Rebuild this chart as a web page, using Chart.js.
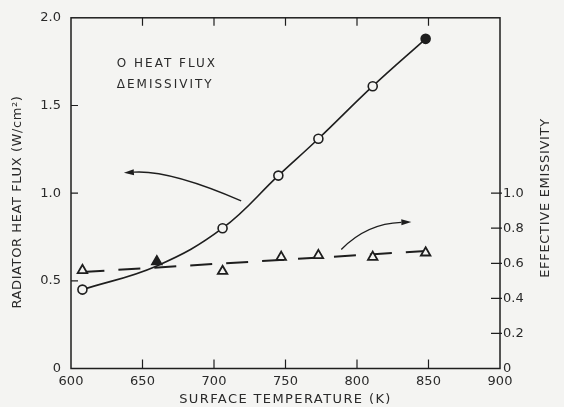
<!DOCTYPE html>
<html><head><meta charset="utf-8">
<script src="https://cdn.jsdelivr.net/npm/chart.js@4.4.1/dist/chart.umd.min.js"></script>
<style>html,body{margin:0;padding:0;background:#f4f4f2;}canvas{display:block;}</style>
</head><body>
<canvas id="c" width="564" height="407"></canvas>
<script>
// ---- data ----
const temperatureHF = [608, 660, 706, 745, 773, 811, 848];
const heatFlux      = [0.45, 0.585, 0.80, 1.10, 1.31, 1.61, 1.88];
const temperatureEm = [608, 660, 706, 747, 773, 811, 848];
const emissivity    = [0.56, 0.61, 0.555, 0.635, 0.645, 0.635, 0.66];
const fitTemperature = [608, 848];
const fitEmissivity  = [0.55, 0.67];
const xTicks      = [600, 650, 700, 750, 800, 850, 900];
const yLeftTicks  = [0, 0.5, 1.0, 1.5, 2.0];
const yRightTicks = [0, 0.2, 0.4, 0.6, 0.8, 1.0];
const xTitle = 'SURFACE TEMPERATURE (K)';
const yLeftTitle = 'RADIATOR HEAT FLUX (W/cm\u00B2)';
const yRightTitle = 'EFFECTIVE EMISSIVITY';
const legendLabels = ['O HEAT FLUX', '\u0394EMISSIVITY'];
const legendAnchors = [[632, 1.74], [632, 1.62]];           // data units (x, left y)
const arrowPaths = [                                          // data units (x, left y)
  {from: [719, 0.956], ctrl: [669, 1.133], to: [637, 1.116]},
  {from: [789, 0.679], ctrl: [807, 0.828], to: [838, 0.835]}
];

const BG = '#f4f4f2';
const INK = '#1e1e1e';
const TXT = '#2a2a2a';
const FONT = 'DejaVu Sans';

function fmt(v){ return v === 0 ? '0' : v.toFixed(1); }

const overlay = {
  id: 'overlay',
  beforeDraw(chart){
    const s = chart.scales.x;
    if (!s._spacingPatched){
      const orig = s.drawTitle;
      s.drawTitle = function(){ this.ctx.save(); this.ctx.letterSpacing = '1.4px'; orig.apply(this, arguments); this.ctx.restore(); };
      s._spacingPatched = true;
    }
    const ctx = chart.ctx;
    ctx.save(); ctx.fillStyle = BG; ctx.fillRect(0,0,chart.width,chart.height); ctx.restore();
  },
  afterDraw(chart){
    const {ctx, chartArea: a, scales} = chart;
    const x = scales.x, y = scales.y, y2 = scales.y2;
    ctx.save();
    ctx.strokeStyle = INK; ctx.lineWidth = 1.5;
    ctx.strokeRect(a.left, a.top, a.right - a.left, a.bottom - a.top);
    ctx.lineWidth = 1.2;
    ctx.beginPath();
    xTicks.slice(1, -1).forEach(v => {
      const px = x.getPixelForValue(v);
      ctx.moveTo(px, a.bottom); ctx.lineTo(px, a.bottom - 9);
      ctx.moveTo(px, a.top); ctx.lineTo(px, a.top + 8);
    });
    yLeftTicks.slice(1, -1).forEach(v => {
      const py = y.getPixelForValue(v);
      ctx.moveTo(a.left, py); ctx.lineTo(a.left + 7, py);
    });
    yRightTicks.slice(1).forEach(v => {
      const py = y2.getPixelForValue(v);
      ctx.moveTo(a.right - 9, py); ctx.lineTo(a.right + 2, py);
    });
    ctx.stroke();

    // arrows
    ctx.lineWidth = 1.3;
    arrowPaths.forEach(p => {
      const f = [x.getPixelForValue(p.from[0]), y.getPixelForValue(p.from[1])];
      const c = [x.getPixelForValue(p.ctrl[0]), y.getPixelForValue(p.ctrl[1])];
      const t = [x.getPixelForValue(p.to[0]), y.getPixelForValue(p.to[1])];
      const ang = Math.atan2(t[1] - c[1], t[0] - c[0]);
      const L = 10, W = 3;
      const bx = t[0] - L*Math.cos(ang), by = t[1] - L*Math.sin(ang);
      ctx.beginPath(); ctx.moveTo(f[0], f[1]); ctx.quadraticCurveTo(c[0], c[1], bx, by); ctx.stroke();
      ctx.beginPath();
      ctx.moveTo(t[0], t[1]);
      ctx.lineTo(bx + W*Math.sin(ang), by - W*Math.cos(ang));
      ctx.lineTo(bx - W*Math.sin(ang), by + W*Math.cos(ang));
      ctx.closePath(); ctx.fillStyle = INK; ctx.fill();
    });

    // legend
    ctx.fillStyle = TXT;
    ctx.font = '12px "' + FONT + '"';
    ctx.letterSpacing = '2px';
    ctx.textBaseline = 'middle'; ctx.textAlign = 'left';
    legendLabels.forEach((t, i) => {
      ctx.fillText(t, x.getPixelForValue(legendAnchors[i][0]), y.getPixelForValue(legendAnchors[i][1]));
    });

    // vertical titles
    ctx.font = '13px "' + FONT + '"';
    ctx.textAlign = 'center';
    ctx.save();
    ctx.letterSpacing = '0.6px';
    ctx.translate(18, 202); ctx.rotate(-Math.PI/2);
    ctx.fillText(yLeftTitle, 0, 0);
    ctx.restore();
    ctx.save();
    ctx.letterSpacing = '0.7px';
    ctx.translate(546, 198); ctx.rotate(-Math.PI/2);
    ctx.fillText(yRightTitle, 0, 0);
    ctx.restore();
    ctx.restore();
  }
};

new Chart(document.getElementById('c'), {
  type: 'line',
  data: {
    datasets: [
      {
        label: 'EMISSIVITY',
        data: temperatureEm.map((t, i) => ({x: t, y: emissivity[i]})),
        yAxisID: 'y2', showLine: false,
        pointStyle: 'triangle', pointRadius: 5.5, borderWidth: 1.8,
        borderColor: INK,
        pointBackgroundColor: emissivity.map((_, i) => i === 1 ? INK : BG)
      },
      {
        label: 'HEAT FLUX',
        data: temperatureHF.map((t, i) => ({x: t, y: heatFlux[i]})),
        yAxisID: 'y',
        borderColor: INK, borderWidth: 1.6,
        tension: 0.4,
        pointStyle: 'circle', pointBorderWidth: 1.6,
        pointRadius: heatFlux.map((_, i) => i === 1 ? 0 : 4.5),
        pointBackgroundColor: heatFlux.map((_, i) => i === heatFlux.length - 1 ? INK : BG)
      },
      {
        label: 'EMISSIVITY FIT',
        data: fitTemperature.map((t, i) => ({x: t, y: fitEmissivity[i]})),
        yAxisID: 'y2',
        borderColor: INK, borderWidth: 2, borderDash: [22, 14],
        pointRadius: 0
      }
    ]
  },
  options: {
    responsive: false, animation: false, devicePixelRatio: 1,
    layout: {padding: {top: 14, left: 0, right: 0, bottom: 0}},
    plugins: {legend: {display: false}, tooltip: {enabled: false}},
    scales: {
      x: {
        type: 'linear', min: 600, max: 900,
        afterBuildTicks: s => { s.ticks = xTicks.map(v => ({value: v})); },
        afterFit: s => { s.height = 38.5; },
        grid: {display: false, drawTicks: false},
        border: {display: false},
        ticks: {padding: 5, color: TXT, font: {family: FONT, size: 13}, callback: v => String(v)},
        title: {display: true, text: xTitle, color: TXT, font: {family: FONT, size: 13}, padding: 0}
      },
      y: {
        position: 'left', min: 0, max: 2,
        afterBuildTicks: s => { s.ticks = yLeftTicks.map(v => ({value: v})); },
        afterFit: s => { s.width = 71; },
        grid: {display: false, drawTicks: false},
        border: {display: false},
        ticks: {padding: 10, color: TXT, font: {family: FONT, size: 13}, callback: v => fmt(v)}
      },
      y2: {
        position: 'right', min: 0, max: 2,
        afterBuildTicks: s => { s.ticks = yRightTicks.map(v => ({value: v})); },
        afterFit: s => { s.width = 64; },
        grid: {display: false, drawTicks: false},
        border: {display: false},
        ticks: {padding: 3, color: TXT, font: {family: FONT, size: 13}, callback: v => fmt(v)}
      }
    }
  },
  plugins: [overlay]
});
</script>
</body></html>
